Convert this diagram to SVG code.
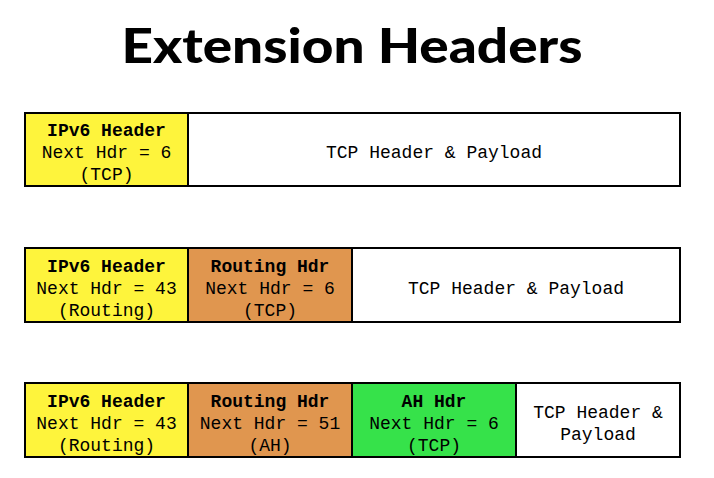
<svg xmlns="http://www.w3.org/2000/svg" width="714" height="478" viewBox="0 0 714 478">
<style>
.box{stroke:#000;stroke-width:2}
.y{fill:#FEF43C}
.o{fill:#E0964F}
.g{fill:#36E24A}
.w{fill:#FFFFFF}
text{font-family:"Liberation Mono","Courier New",monospace;font-size:18px;text-anchor:middle;fill:#000}
.b{font-weight:bold}
.title{font-family:Lato,"Liberation Sans",sans-serif;font-weight:900;font-size:47px}
</style>
<rect width="714" height="478" fill="#fff"/>
<text class="title" x="352" y="63" textLength="461" lengthAdjust="spacingAndGlyphs">Extension Headers</text>
<g id="row1">
<g id="r1-ipv6"><rect class="box y" x="25" y="113" width="163" height="73"/>
<text class="b" x="106.5" y="136">IPv6 Header</text><text x="106.5" y="158">Next Hdr = 6</text><text x="106.5" y="180">(TCP)</text></g>
<g id="r1-tcp"><rect class="box w" x="188" y="113" width="492" height="73"/>
<text x="434" y="158">TCP Header &amp; Payload</text></g>
</g>
<g id="row2">
<g id="r2-ipv6"><rect class="box y" x="25" y="248" width="163" height="74"/>
<text class="b" x="106.5" y="272">IPv6 Header</text><text x="106.5" y="294">Next Hdr = 43</text><text x="106.5" y="316">(Routing)</text></g>
<g id="r2-routing"><rect class="box o" x="188" y="248" width="164" height="74"/>
<text class="b" x="270" y="272">Routing Hdr</text><text x="270" y="294">Next Hdr = 6</text><text x="270" y="316">(TCP)</text></g>
<g id="r2-tcp"><rect class="box w" x="352" y="248" width="328" height="74"/>
<text x="516" y="294">TCP Header &amp; Payload</text></g>
</g>
<g id="row3">
<g id="r3-ipv6"><rect class="box y" x="25" y="383" width="163" height="74"/>
<text class="b" x="106.5" y="407">IPv6 Header</text><text x="106.5" y="429">Next Hdr = 43</text><text x="106.5" y="451">(Routing)</text></g>
<g id="r3-routing"><rect class="box o" x="188" y="383" width="164" height="74"/>
<text class="b" x="270" y="407">Routing Hdr</text><text x="270" y="429">Next Hdr = 51</text><text x="270" y="451">(AH)</text></g>
<g id="r3-ah"><rect class="box g" x="352" y="383" width="164" height="74"/>
<text class="b" x="434" y="407">AH Hdr</text><text x="434" y="429">Next Hdr = 6</text><text x="434" y="451">(TCP)</text></g>
<g id="r3-tcp"><rect class="box w" x="516" y="383" width="164" height="74"/>
<text x="598" y="418">TCP Header &amp;</text><text x="598" y="440">Payload</text></g>
</g>
<g id="connectors"/>
</svg>
